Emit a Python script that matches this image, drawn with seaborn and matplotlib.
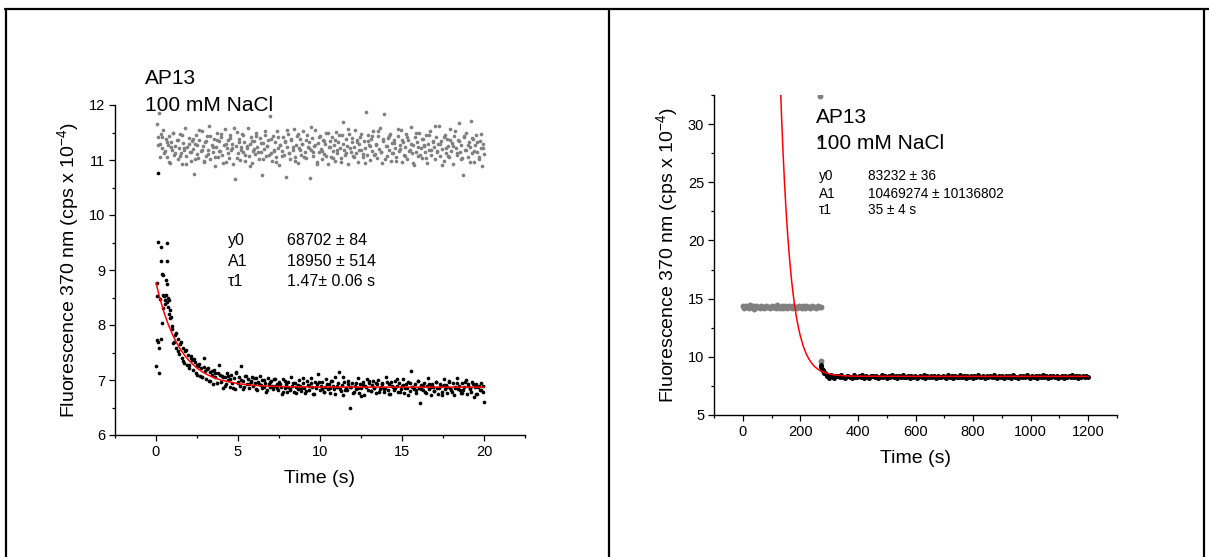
import numpy as np
import pandas as pd
import matplotlib
matplotlib.use("Agg")
import matplotlib.pyplot as plt
from matplotlib.ticker import MultipleLocator
from matplotlib.lines import Line2D
import seaborn as sns

# ---------------- data: left panel (0-20 s) ----------------
gray_left = [
    11.65, 11.42, 11.85, 11.30, 11.48, 11.22, 11.55, 11.12, 11.38, 11.05, 11.27, 11.44, 10.95, 11.33, 11.18, 11.50, 11.09, 11.26, 11.36, 11.02,
    11.21, 11.47, 11.13, 10.92, 11.31, 11.19, 11.58, 11.07, 11.24, 11.40, 11.15, 10.98, 11.35, 11.20, 10.75, 11.29, 11.45, 11.11, 11.03, 11.37,
    11.17, 11.52, 11.25, 10.96, 11.32, 11.08, 11.43, 11.19, 11.62, 11.01, 11.28, 11.14, 11.39, 10.90, 11.23, 11.49, 11.06, 11.34, 11.16, 11.41,
    11.10, 11.27, 11.56, 10.97, 11.22, 11.36, 11.04, 11.45, 11.18, 11.30, 10.93, 10.65, 11.26, 11.51, 11.12, 11.38, 11.00, 11.24, 11.47, 11.15,
    11.33, 10.99, 11.21, 11.59, 11.08, 11.29, 11.42, 10.94, 11.17, 11.35, 11.11, 11.50, 11.23, 11.02, 11.40, 11.14, 10.73, 11.31, 11.20, 11.46,
    11.07, 11.25, 11.37, 11.80, 11.13, 10.98, 11.44, 11.19, 11.32, 11.05, 11.53, 11.22, 10.91, 11.28, 11.16, 11.41, 11.09, 11.34, 10.70, 11.24,
    11.48, 11.12, 11.01, 11.36, 11.19, 11.57, 11.06, 11.27, 11.43, 10.95, 11.21, 11.39, 11.10, 11.30, 11.52, 11.15, 11.03, 11.46, 11.23, 11.33,
    10.68, 11.18, 11.40, 11.08, 11.26, 11.55, 10.97, 11.31, 11.14, 11.44, 11.20, 11.02, 11.37, 11.11, 11.29, 11.49, 10.93, 11.24, 11.35, 11.06,
    11.42, 11.17, 11.28, 10.99, 11.51, 11.13, 11.33, 11.22, 11.04, 11.45, 11.70, 11.19, 11.10, 11.38, 11.26, 10.92, 11.47, 11.15, 11.32, 11.07,
    11.23, 11.54, 11.12, 11.36, 10.96, 11.29, 11.41, 11.18, 11.05, 11.34, 11.21, 11.88, 11.09, 11.46, 11.27, 11.00, 11.39, 11.16, 11.52, 11.11,
    11.30, 11.03, 11.44, 11.20, 11.58, 11.14, 10.94, 11.35, 11.83, 11.25, 11.08, 11.40, 11.19, 11.48, 10.98, 11.31, 11.13, 11.37, 11.22, 11.06,
    11.43, 11.17, 11.28, 11.55, 10.97, 11.32, 11.10, 11.24, 11.47, 11.02, 11.36, 11.19, 11.60, 11.12, 11.27, 10.91, 11.41, 11.15, 11.33, 11.08,
    11.50, 11.21, 11.04, 11.38, 11.26, 11.14, 11.45, 10.95, 11.30, 11.18, 11.53, 11.09, 11.35, 11.23, 11.01, 11.42, 11.16, 11.29, 11.62, 11.07,
    11.34, 11.20, 10.98, 11.46, 11.13, 11.39, 11.25, 11.05, 11.57, 11.17, 11.31, 10.93, 11.44, 11.22, 11.10, 11.36, 11.68, 11.15, 11.28, 11.03,
    10.72, 11.41, 11.19, 11.49, 11.06, 11.33, 11.24, 11.71, 11.12, 11.38, 10.96, 11.27, 11.45, 11.14, 11.02, 11.35, 11.21, 10.90, 11.30, 11.11,
]
gray_left_t_range = (0.05, 20.0)
gray_left_b = [
    11.28, 11.05, 11.41, 11.17, 11.33, 10.97, 11.24, 11.50, 11.12, 11.36, 11.08, 11.45, 11.21, 10.93, 11.30,
    11.15, 11.39, 11.02, 11.27, 11.54, 11.19, 10.99, 11.34, 11.11, 11.43, 11.23, 11.06, 11.37, 11.16, 11.48,
    10.95, 11.29, 11.13, 11.40, 11.22, 11.58, 11.04, 11.32, 11.18, 11.46, 11.09, 11.26, 10.90, 11.35, 11.20,
    11.44, 11.14, 11.31, 11.01, 11.52, 11.25, 11.10, 11.38, 11.17, 10.96, 11.42, 11.28, 11.07, 11.33, 11.55,
    11.12, 11.39, 11.23, 10.98, 11.47, 11.19, 11.30, 11.05, 11.36, 11.21, 11.60, 11.14, 11.27, 10.92, 11.41,
    11.16, 11.34, 11.08, 11.50, 11.24, 11.03, 11.37, 11.18, 11.45, 10.97, 11.29, 11.13, 11.56, 11.22, 11.40,
    11.06, 11.32, 11.19, 11.48, 11.11, 10.94, 11.35, 11.25, 11.43, 11.09, 11.28, 11.52, 11.15, 11.38, 11.01,
    11.26, 11.44, 11.12, 11.31, 10.99, 11.57, 11.20, 11.36, 11.07, 11.42, 11.17, 11.29, 10.95, 11.49, 11.23,
    11.10, 11.39, 11.27, 11.04, 11.46, 11.18, 11.33, 11.62, 11.14, 11.30, 10.91, 11.41, 11.21, 11.08, 11.37,
    11.25, 11.53, 11.13, 11.35, 11.02, 11.44, 11.19, 11.28, 10.96, 11.40, 11.16, 11.32, 11.06, 11.47, 11.22,
]
gray_left_b_t_range = (0.12, 19.95)

black_left_early_t = [0.02, 0.04, 0.06, 0.08, 0.10, 0.12, 0.14, 0.17, 0.20, 0.24, 0.28, 0.30, 0.33, 0.36, 0.37,
                      0.40, 0.43, 0.45, 0.48, 0.52, 0.55, 0.60, 0.62, 0.65, 0.67, 0.69, 0.69, 0.72, 0.75, 0.78,
                      0.82, 0.85, 0.88, 0.92, 0.95]
black_left_early_y = [7.25, 7.72, 8.52, 8.76, 10.77, 7.70, 9.51, 7.13, 7.58, 8.48, 9.16, 7.75, 9.42, 8.03, 8.93,
                      8.55, 8.30, 8.91, 8.52, 8.45, 8.38, 8.82, 8.55, 9.17, 8.42, 8.75, 9.50, 8.50, 8.32, 8.20,
                      8.46, 8.28, 8.12, 8.15, 7.98]
black_left = [
    7.92, 7.70, 7.81, 7.58, 7.75, 7.48, 7.66, 7.40, 7.58, 7.31, 7.52, 7.28, 7.45, 7.22, 7.40, 7.36, 7.19, 7.33, 7.12, 7.27,
    7.26, 7.08, 7.22, 7.05, 7.40, 7.17, 7.02, 7.21, 6.98, 7.14, 7.10, 6.92, 7.18, 7.06, 6.95, 7.12, 7.28, 6.97, 7.08, 6.86,
    7.05, 6.92, 7.12, 7.00, 6.88, 7.09, 6.95, 7.03, 6.84, 7.14, 6.97, 7.06, 6.90, 7.25, 6.99, 6.87, 7.08, 6.93, 7.02, 6.85,
    6.98, 7.06, 6.89, 6.95, 7.03, 6.82, 6.97, 7.08, 6.91, 6.86, 7.00, 6.94, 6.79, 7.04, 6.92, 6.88, 6.99, 6.84, 7.02, 6.90,
    6.93, 6.81, 6.97, 6.88, 6.75, 7.01, 6.86, 6.92, 6.79, 6.96, 6.84, 7.05, 6.90, 6.78, 6.94, 6.87, 6.83, 7.00, 6.89, 6.80,
    6.95, 6.86, 6.77, 6.99, 6.91, 6.82, 7.04, 6.88, 6.74, 6.97, 6.85, 6.93, 7.11, 6.81, 6.90, 6.96, 6.79, 6.87, 7.02, 6.84,
    6.92, 6.76, 6.98, 6.89, 6.83, 7.06, 6.87, 6.94, 7.15, 6.80, 6.91, 6.73, 6.97, 6.86, 6.81, 6.99, 6.50, 6.88, 6.95, 6.78,
    6.90, 6.84, 7.03, 6.77, 6.93, 6.86, 6.96, 6.72, 6.89, 7.01, 6.82, 6.94, 6.80, 6.91, 6.98, 6.85, 6.76, 6.92, 7.00, 6.83,
    6.88, 6.95, 6.79, 6.86, 7.05, 6.82, 6.93, 6.74, 6.97, 6.87, 6.81, 6.99, 6.90, 6.78, 6.94, 6.84, 6.89, 7.02, 6.76, 6.92,
    6.85, 6.96, 6.80, 7.16, 6.88, 6.83, 6.93, 6.77, 6.99, 6.86, 6.58, 6.91, 6.82, 6.95, 6.79, 6.89, 7.04, 6.84, 6.73, 6.92,
    6.87, 6.80, 6.97, 6.85, 6.74, 6.93, 6.89, 6.78, 7.01, 6.83, 6.91, 6.76, 6.96, 6.86, 6.81, 6.94, 6.72, 6.88, 7.03, 6.84,
    6.90, 6.77, 6.95, 6.82, 6.88, 7.00, 6.75, 6.93, 6.85, 6.79, 6.97, 6.70, 6.87, 6.92, 6.74, 6.89, 6.81, 6.95, 6.78, 6.60,
]
black_left_t_range = (1.0, 20.0)
black_left_b = [
    7.68, 7.85, 7.52, 7.70, 7.35, 7.55, 7.28, 7.44, 7.38, 7.10, 7.30, 7.05, 7.24, 7.20, 6.98, 7.16, 7.12, 6.94, 7.10, 7.05,
    6.90, 7.08, 7.02, 6.86, 7.12, 6.95, 7.00, 6.84, 7.07, 6.93, 6.97, 7.04, 6.83, 6.92, 7.00, 6.88, 6.81, 6.96, 6.90, 7.02,
    6.85, 6.93, 6.78, 6.99, 6.87, 6.82, 6.95, 6.76, 6.91, 6.86, 7.03, 6.80, 6.89, 6.94, 6.75, 6.88, 6.97, 6.83, 6.79, 6.92,
    6.86, 6.98, 6.74, 6.90, 6.84, 7.06, 6.81, 6.93, 6.87, 6.77, 6.95, 6.85, 6.71, 6.91, 6.88, 6.99, 6.80, 6.86, 6.94, 6.78,
    6.92, 6.83, 6.97, 6.75, 6.89, 6.85, 7.01, 6.79, 6.91, 6.86, 6.73, 6.95, 6.88, 6.81, 6.98, 6.84, 6.90, 6.77, 6.93, 6.87,
    6.80, 6.96, 6.85, 6.72, 6.91, 6.88, 6.99, 6.78, 6.86, 6.94, 6.82, 6.76, 6.97, 6.89, 6.84, 6.92, 6.75, 6.87, 6.81, 6.90,
]
black_left_b_t_range = (1.04, 19.96)

fit_left_t = [0, 0.25, 0.5, 0.75, 1.0, 1.25, 1.5, 1.75, 2.0, 2.5, 3.0, 3.5, 4.0, 5.0, 6.0, 7.0, 8.0, 10.0, 15.0, 20.0]
fit_left_y = [8.765, 8.469, 8.219, 8.008, 7.830, 7.680, 7.553, 7.446, 7.356, 7.216, 7.116, 7.045, 6.995, 6.933,
              6.902, 6.886, 6.878, 6.872, 6.870, 6.870]

# ---------------- data: right panel (0-1200 s) ----------------
gray_right = [14.35, 14.22, 14.41, 14.30, 14.18, 14.45, 14.27, 14.33, 14.15, 14.38, 14.24, 14.31, 14.20, 14.40,
              14.28, 14.17, 14.36, 14.25, 14.32, 14.21, 14.39, 14.26, 14.30, 14.19, 14.43, 14.29, 14.23, 14.37,
              14.16, 14.34, 14.27, 14.22, 14.40, 14.31, 14.18, 14.35, 14.25, 14.29, 14.20, 14.38, 14.28, 14.23,
              14.33, 14.19, 14.36, 14.26, 14.30, 14.21, 14.39, 14.24, 14.32, 14.18, 14.35, 14.27, 14.30]
gray_right_t_range = (0.0, 270.0)
gray_right_out_t = [268, 268, 272]
gray_right_out_y = [32.4, 28.8, 9.6]

black_right_spike_t = [271, 273, 275, 277, 279, 282, 285, 288, 291]
black_right_spike_y = [9.30, 9.10, 8.95, 8.85, 8.75, 8.65, 8.58, 8.50, 8.45]
black_right = [
    8.35, 8.22, 8.41, 8.28, 8.19, 8.37, 8.31, 8.25, 8.44, 8.29,
    8.21, 8.38, 8.33, 8.26, 8.17, 8.40, 8.30, 8.24, 8.36, 8.28,
    8.45, 8.22, 8.32, 8.27, 8.18, 8.39, 8.31, 8.25, 8.34, 8.20,
    8.29, 8.42, 8.26, 8.33, 8.21, 8.37, 8.28, 8.48, 8.24, 8.31,
    8.19, 8.35, 8.27, 8.40, 8.23, 8.30, 8.36, 8.16, 8.32, 8.26,
    8.38, 8.22, 8.29, 8.34, 8.25, 8.43, 8.20, 8.31, 8.27, 8.36,
    8.23, 8.33, 8.18, 8.39, 8.28, 8.24, 8.35, 8.30, 8.21, 8.41,
    8.26, 8.32, 8.19, 8.37, 8.29, 8.24, 8.44, 8.27, 8.33, 8.22,
    8.38, 8.25, 8.31, 8.17, 8.36, 8.28, 8.42, 8.23, 8.30, 8.34,
    8.20, 8.39, 8.27, 8.32, 8.24, 8.46, 8.29, 8.21, 8.35, 8.26,
    8.31, 8.18, 8.37, 8.28, 8.33, 8.22, 8.40, 8.25, 8.30, 8.19,
    8.36, 8.27, 8.34, 8.23, 8.41, 8.29, 8.14, 8.32, 8.26, 8.38,
    8.21, 8.35, 8.28, 8.43, 8.24, 8.31, 8.20, 8.37, 8.27, 8.33,
    8.25, 8.39, 8.22, 8.30, 8.35, 8.18, 8.32, 8.28, 8.36, 8.23,
    8.40, 8.26, 8.31, 8.21, 8.34, 8.29, 8.37, 8.24, 8.32, 8.30,
]
black_right_t_range = (294.0, 1200.0)

fit_right_t = [130, 135, 140, 145, 150, 155, 160, 165, 170, 175, 180, 185, 190, 195, 200, 210, 220, 230, 240, 250,
               260, 270, 280, 300, 320, 350, 400, 600, 800, 1000, 1200]
fit_right_y = [33.85, 30.45, 27.50, 24.95, 22.73, 20.83, 19.16, 17.72, 16.46, 15.38, 14.44, 13.62, 12.92, 12.31,
               11.78, 10.92, 10.27, 9.79, 9.43, 9.15, 8.95, 8.79, 8.68, 8.52, 8.44, 8.37, 8.33, 8.32, 8.32, 8.32, 8.32]

title_lines = ["AP13", "100 mM NaCl"]
params_left = [("y0", "68702 \u00b1 84"), ("A1", "18950 \u00b1 514"), ("\u03c41", "1.47\u00b1 0.06 s")]
params_right = [("y0", "83232 \u00b1 36"), ("A1", "10469274 \u00b1 10136802"), ("\u03c41", "35 \u00b1 4 s")]
ylabel = "Fluorescence 370 nm (cps x 10$^{-4}$)"
xlabel = "Time (s)"

# ---------------- style ----------------
sns.set_theme(style="white")
plt.rcParams["font.family"] = ["Liberation Sans", "DejaVu Sans"]
plt.rcParams["mathtext.fontset"] = "custom"
plt.rcParams["mathtext.rm"] = "Liberation Sans"
plt.rcParams["mathtext.it"] = "Liberation Sans:italic"
plt.rcParams["mathtext.bf"] = "Liberation Sans:bold"
for key in ("text.color", "axes.labelcolor", "xtick.color", "ytick.color", "axes.edgecolor"):
    plt.rcParams[key] = "black"

GRAY = "#808080"
W, H = 1209, 557
fig = plt.figure(figsize=(W / 100, H / 100), dpi=100)
fig.patch.set_facecolor("white")


def px_axes(x0, y0, x1, y1):
    return fig.add_axes([x0 / W, 1 - y1 / H, (x1 - x0) / W, (y1 - y0) / H])


axL = px_axes(115, 105, 525, 435)
axR = px_axes(714, 95, 1117, 415)

# left panel
dfgl = pd.DataFrame({"t": list(np.linspace(*gray_left_t_range, len(gray_left)))
                          + list(np.linspace(*gray_left_b_t_range, len(gray_left_b))),
                     "v": gray_left + gray_left_b})
dfbl = pd.DataFrame({"t": list(black_left_early_t)
                          + list(np.linspace(*black_left_t_range, len(black_left)))
                          + list(np.linspace(*black_left_b_t_range, len(black_left_b))),
                     "v": black_left_early_y + black_left + black_left_b})
sns.scatterplot(data=dfgl, x="t", y="v", color=GRAY, s=7, linewidth=0, ax=axL, legend=False)
sns.scatterplot(data=dfbl, x="t", y="v", color="black", s=7, linewidth=0, ax=axL, legend=False)
sns.lineplot(x=fit_left_t, y=fit_left_y, color="red", lw=1.1, ax=axL, estimator=None, sort=False)

# right panel
dfgr = pd.DataFrame({"t": list(np.linspace(*gray_right_t_range, len(gray_right))) + gray_right_out_t,
                     "v": gray_right + gray_right_out_y})
dfbr = pd.DataFrame({"t": black_right_spike_t + list(np.linspace(*black_right_t_range, len(black_right))),
                     "v": black_right_spike_y + black_right})
sns.scatterplot(data=dfgr, x="t", y="v", color=GRAY, s=18, linewidth=0, ax=axR, legend=False)
sns.scatterplot(data=dfbr, x="t", y="v", color="black", s=13, linewidth=0, ax=axR, legend=False)
sns.lineplot(x=fit_right_t, y=fit_right_y, color="red", lw=1.1, ax=axR, estimator=None, sort=False)

for ax in (axL, axR):
    ax.set_facecolor("white")
    for s in ("top", "right"):
        ax.spines[s].set_visible(False)
    for s in ("left", "bottom"):
        ax.spines[s].set_color("black")
        ax.spines[s].set_linewidth(1.0)
    ax.tick_params(which="major", direction="out", length=4, width=0.9, colors="black",
                   labelsize=10.5, pad=3, left=True, bottom=True)
    ax.tick_params(which="minor", direction="out", length=2.5, width=0.9, colors="black",
                   left=True, bottom=True)
    ax.set_xlabel(xlabel, fontsize=14, labelpad=8, color="black")
    ax.set_ylabel(ylabel, fontsize=14, labelpad=6, color="black")
    ax.grid(False)

axL.set_xlim(-2.5, 22.5)
axL.set_ylim(6, 12)
axL.set_xticks([0, 5, 10, 15, 20])
axL.set_yticks([6, 7, 8, 9, 10, 11, 12])
axL.xaxis.set_minor_locator(MultipleLocator(2.5))
axL.yaxis.set_minor_locator(MultipleLocator(0.5))

axR.set_xlim(-100, 1300)
axR.set_ylim(5, 32.5)
axR.set_xticks([0, 200, 400, 600, 800, 1000, 1200])
axR.set_yticks([5, 10, 15, 20, 25, 30])
axR.xaxis.set_minor_locator(MultipleLocator(100))
axR.yaxis.set_minor_locator(MultipleLocator(2.5))

# annotations (positions in axes fraction)
axL.text(0.0732, 1.0636, title_lines[0], transform=axL.transAxes, fontsize=15, va="baseline", clip_on=False)
axL.text(0.0732, 0.9818, title_lines[1], transform=axL.transAxes, fontsize=15, va="baseline", clip_on=False)
for i, (k, v) in enumerate(params_left):
    yb = [0.5758, 0.5121, 0.4515][i]
    axL.text(0.2756, yb, k, transform=axL.transAxes, fontsize=11.5, va="baseline")
    axL.text(0.4195, yb, v, transform=axL.transAxes, fontsize=11.5, va="baseline")

axR.text(0.253, 0.9125, title_lines[0], transform=axR.transAxes, fontsize=15, va="baseline")
axR.text(0.253, 0.831, title_lines[1], transform=axR.transAxes, fontsize=15, va="baseline")
for i, (k, v) in enumerate(params_right):
    yb = [0.734, 0.678, 0.628][i]
    axR.text(0.2605, yb, k, transform=axR.transAxes, fontsize=9.8, va="baseline")
    axR.text(0.382, yb, v, transform=axR.transAxes, fontsize=9.8, va="baseline")

# table borders
def fline(x0, y0, x1, y1):
    fig.add_artist(Line2D([x0 / W, x1 / W], [1 - y0 / H, 1 - y1 / H], color="black", lw=1.6,
                          transform=fig.transFigure))

fline(5, 9, W, 9)
fline(6, 9, 6, H)
fline(609, 9, 609, H)
fline(1204, 9, 1204, H)

fig.savefig("out.png", dpi=100, facecolor="white")
